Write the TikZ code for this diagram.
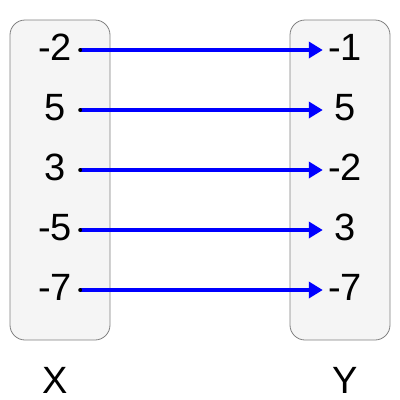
\documentclass[tikz,border=0pt]{standalone}
\usepackage{fontspec}
\setmainfont{Liberation Sans}
\usetikzlibrary{arrows.meta}
\begin{document}
\begin{tikzpicture}[x=1pt,y=-1pt,>={Triangle[length=14pt,width=16pt]},line join=round,font=\fontsize{38}{40}\selectfont,
	setbox/.style={draw=gray,fill=gray!8,rounded corners=15pt,line width=0.8pt,minimum width=100pt,minimum height=320pt,inner sep=0pt},
	val/.style={inner sep=0pt,text height=27pt,text depth=6pt},
	xval/.style={val,minimum width=50pt},
	yval/.style={val,minimum width=44pt},
	map/.style={->,blue,line width=4pt}]
	\useasboundingbox (0,0) rectangle (400,400);
	\node[setbox] (X) at (60,180) {};
	\node[setbox] (Y) at (340,180) {};
	\node (xlab) at (55,380) {X};
	\node (ylab) at (345,380) {Y};
	\foreach \a/\b [count=\i] in {-2/-1,5/5,3/-2,-5/3,-7/-7}{
		\node[xval] (x\i) at (55,-10+60*\i) {\a};
		\node[yval] (y\i) at (345,-10+60*\i) {\b};
		\draw[map] (x\i.east)--(y\i.west);
		\fill (x\i.east) circle (2pt);
	}
\end{tikzpicture}
\end{document}
